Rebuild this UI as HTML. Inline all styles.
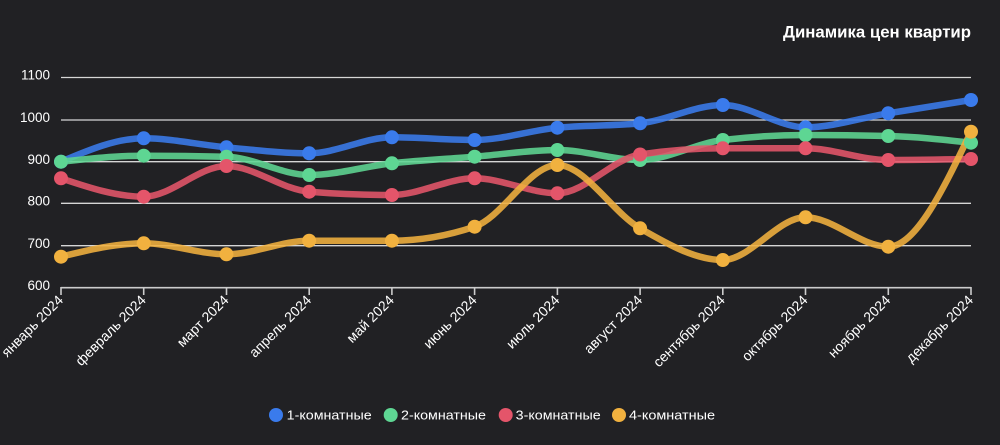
<!DOCTYPE html>
<html><head><meta charset="utf-8"><style>
html,body{margin:0;padding:0;background:#212124;}
svg{display:block;font-family:"Liberation Sans",Arial,sans-serif;}
</style></head><body>
<svg id="c" width="1000" height="445" viewBox="0 0 1000 445" xmlns="http://www.w3.org/2000/svg">
<rect width="1000" height="445" fill="#212124"/>
<text x="971" y="37.5" text-anchor="end" fill="#ffffff" font-weight="bold" font-size="16.5" textLength="188" lengthAdjust="spacingAndGlyphs">Динамика цен квартир</text>
<g stroke="#d6d6d6" stroke-width="1.3">
<line x1="61" x2="971" y1="77.5" y2="77.5"/>
<line x1="61" x2="971" y1="120" y2="120"/>
<line x1="61" x2="971" y1="161.7" y2="161.7"/>
<line x1="61" x2="971" y1="203.3" y2="203.3"/>
<line x1="61" x2="971" y1="245.7" y2="245.7"/>
</g>
<g fill="#ffffff" font-size="13.5" text-anchor="end">
<text x="50" y="79.5">1100</text>
<text x="50" y="122">1000</text>
<text x="50" y="164">900</text>
<text x="50" y="205.5">800</text>
<text x="50" y="248">700</text>
<text x="50" y="290">600</text>
</g>
<g stroke="#cccccc" stroke-width="1.6" fill="none">
<line x1="61" x2="971" y1="287.7" y2="287.7"/>
<line x1="61" x2="61" y1="287" y2="295"/>
<line x1="143.7" x2="143.7" y1="287" y2="295"/>
<line x1="226.5" x2="226.5" y1="287" y2="295"/>
<line x1="309.2" x2="309.2" y1="287" y2="295"/>
<line x1="391.9" x2="391.9" y1="287" y2="295"/>
<line x1="474.6" x2="474.6" y1="287" y2="295"/>
<line x1="557.4" x2="557.4" y1="287" y2="295"/>
<line x1="640.1" x2="640.1" y1="287" y2="295"/>
<line x1="722.8" x2="722.8" y1="287" y2="295"/>
<line x1="805.5" x2="805.5" y1="287" y2="295"/>
<line x1="888.3" x2="888.3" y1="287" y2="295"/>
<line x1="971" x2="971" y1="287" y2="295"/>
</g>
<g fill="#ffffff" font-size="14" text-anchor="end">
<text transform="translate(64,301) rotate(-45)">январь 2024</text>
<text transform="translate(146.7,301) rotate(-45)">февраль 2024</text>
<text transform="translate(229.5,301) rotate(-45)">март 2024</text>
<text transform="translate(312.2,301) rotate(-45)">апрель 2024</text>
<text transform="translate(394.9,301) rotate(-45)">май 2024</text>
<text transform="translate(477.6,301) rotate(-45)">июнь 2024</text>
<text transform="translate(560.4,301) rotate(-45)">июль 2024</text>
<text transform="translate(643.1,301) rotate(-45)">август 2024</text>
<text transform="translate(725.8,301) rotate(-45)">сентябрь 2024</text>
<text transform="translate(808.5,301) rotate(-45)">октябрь 2024</text>
<text transform="translate(891.3,301) rotate(-45)">ноябрь 2024</text>
<text transform="translate(974,301) rotate(-45)">декабрь 2024</text>
</g>
<g id="lines" fill="none" stroke-width="6.5" stroke-opacity="0.88" stroke-linecap="round" stroke-linejoin="round">
<path id="l0" stroke="#3a7bec"/>
<path id="l1" stroke="#5ed693"/>
<path id="l2" stroke="#e4556a"/>
<path id="l3" stroke="#f1b13f"/>
</g>
<g id="pts"></g>
<g font-size="13" fill="#ffffff">
<circle cx="276" cy="415" r="7" fill="#3a7bec"/>
<text x="286.7" y="419.7" textLength="85" lengthAdjust="spacingAndGlyphs">1-комнатные</text>
<circle cx="390.7" cy="415" r="7" fill="#5ed693"/>
<text x="401" y="419.7" textLength="85" lengthAdjust="spacingAndGlyphs">2-комнатные</text>
<circle cx="505.7" cy="415" r="7" fill="#e4556a"/>
<text x="515.7" y="419.7" textLength="85" lengthAdjust="spacingAndGlyphs">3-комнатные</text>
<circle cx="619" cy="415" r="7" fill="#f1b13f"/>
<text x="629" y="419.7" textLength="86" lengthAdjust="spacingAndGlyphs">4-комнатные</text>
</g>
</svg>
<script>
(function(){
var xs=[];for(var i=0;i<12;i++)xs.push(61+i*910/11);
var data=[
[161.7,138.3,147.3,153.3,137.3,140,127.7,123.3,105,127.3,113.3,100],
[161.7,155.7,156.7,175,163.3,156.7,150,160,140,135,136,142.7],
[178.3,196.7,166,191.7,195,178.3,193.3,154.5,148.3,148.3,160,159],
[256.7,243.3,254.3,240.7,240.7,226.7,165,228.3,260,217.3,246.7,131.7]];
var cols=["#3a7bec","#5ed693","#e4556a","#f1b13f"];
function sign(v){return v<0?-1:1;}
function path(ys){
 var n=ys.length,h=xs[1]-xs[0],s=[],t=[];
 for(var i=0;i<n-1;i++)s.push((ys[i+1]-ys[i])/h);
 for(var i=1;i<n-1;i++){
  var s0=s[i-1],s1=s[i];
  var p=(s0+s1)/2;
  t[i]=(sign(s0)+sign(s1))*Math.min(Math.abs(s0),Math.abs(s1),0.5*Math.abs(p))||0;
 }
 t[0]=(3*s[0]-t[1])/2; t[n-1]=(3*s[n-2]-t[n-2])/2;
 var d="M"+xs[0]+","+ys[0];
 for(var i=0;i<n-1;i++){
  var dx=h/3;
  d+="C"+(xs[i]+dx)+","+(ys[i]+dx*t[i])+","+(xs[i+1]-dx)+","+(ys[i+1]-dx*t[i+1])+","+xs[i+1]+","+ys[i+1];
 }
 return d;
}
var ns="http://www.w3.org/2000/svg",g=document.getElementById("pts");
for(var k=0;k<4;k++){
 document.getElementById("l"+k).setAttribute("d",path(data[k]));
}
for(var k=0;k<4;k++){
 for(var i=0;i<12;i++){
  var c=document.createElementNS(ns,"circle");
  c.setAttribute("cx",xs[i]);c.setAttribute("cy",data[k][i]);c.setAttribute("r","7");c.setAttribute("fill",cols[k]);
  g.appendChild(c);
 }
}
})();
</script>
</body></html>
